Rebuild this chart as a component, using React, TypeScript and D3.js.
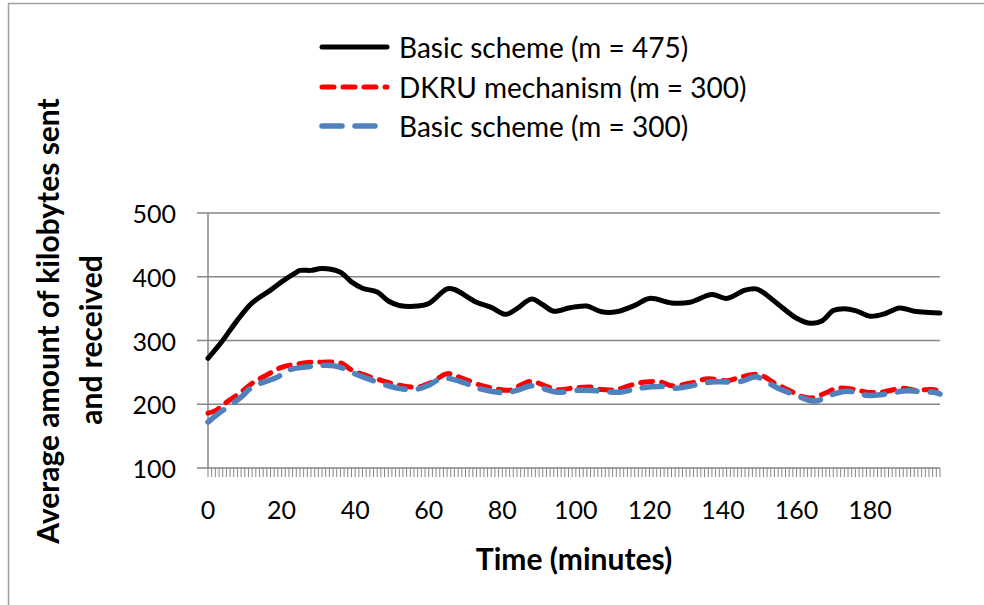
import React from "react";
import * as d3 from "d3";

const xTickLabels = [0, 20, 40, 60, 80, 100, 120, 140, 160, 180];
const yTickLabels = [100, 200, 300, 400, 500];

const basic475X = [0, 4, 8, 12, 17, 20, 24, 25, 28, 31, 36, 39, 42, 46, 49, 52, 57, 60, 65, 67, 73, 77, 81, 84, 88, 91, 94, 98, 100, 103, 107, 111, 116, 120, 126, 131, 137, 141, 146, 149, 151, 155, 160, 164, 167, 170, 173, 176, 180, 184, 188, 192, 196, 199];
const basic475Y = [272, 300, 332, 359, 379, 392, 407, 410, 410, 413, 407, 392, 382, 376, 362, 355, 354, 358, 381, 380, 360, 352, 341, 350, 365, 356, 346, 351, 353, 354, 345, 345, 355, 366, 359, 360, 372, 366, 379, 381, 375, 357, 335, 327, 331, 347, 350, 347, 338, 342, 351, 346, 344, 343];

const dkruX = [0, 2, 5, 9, 12, 16, 20, 24, 28, 31, 36, 39, 44, 48, 51, 57, 61, 65, 69, 74, 77, 82, 85, 88, 92, 95, 100, 104, 107, 111, 115, 119, 123, 126, 131, 136, 141, 145, 149, 151, 154, 158, 161, 164, 168, 171, 176, 179, 183, 189, 192, 197, 199];
const dkruY = [186, 190, 203, 219, 233, 246, 258, 263, 266, 266, 265, 254, 243, 236, 231, 227, 235, 248, 241, 230, 226, 222, 230, 236, 228, 223, 226, 227, 223, 223, 230, 235, 235, 229, 233, 240, 237, 243, 247, 244, 233, 222, 213, 210, 218, 225, 223, 219, 219, 225, 222, 223, 220];

const basic300X = [0, 3, 9, 12, 19, 22, 29, 32, 36, 39, 43, 49, 53, 57, 60, 64, 70, 74, 81, 84, 88, 91, 95, 101, 106, 112, 117, 123, 127, 134, 137, 141, 145, 149, 151, 155, 159, 165, 169, 173, 176, 179, 183, 187, 190, 194, 198, 199];
const basic300Y = [172, 186, 211, 227, 243, 254, 260, 261, 258, 250, 241, 229, 224, 224, 230, 241, 233, 224, 218, 222, 229, 225, 219, 222, 221, 219, 225, 228, 225, 232, 235, 235, 236, 243, 238, 225, 216, 205, 214, 220, 219, 214, 215, 219, 221, 220, 218, 216];

const legendLabels = ["Basic scheme (m = 475)", "DKRU mechanism (m = 300)", "Basic scheme (m = 300)"];

const W = 984;
const H = 605;
const FONT = "Lato, 'Open Sans', sans-serif";

export default function App() {
  const x = d3.scaleLinear().domain([0, 199]).range([208, 940]);
  const y = d3.scaleLinear().domain([100, 500]).range([468, 213]);

  const line = d3
    .line<[number, number]>()
    .x((d) => x(d[0]))
    .y((d) => y(d[1]))
    .curve(d3.curveCatmullRom.alpha(0.5));

  const zip = (xs: number[], ys: number[]) => xs.map((v, i) => [v, ys[i]] as [number, number]);

  const series = [
    { data: zip(basic475X, basic475Y), color: "#000000", dash: undefined as string | undefined, width: 5, cap: "round" },
    { data: zip(dkruX, dkruY), color: "#ff0000", dash: "12 9", width: 5, cap: "round" },
    { data: zip(basic300X, basic300Y), color: "#4f81bd", dash: "20 13", width: 5.5, cap: "round" },
  ];

  const minorTicks = d3.range(0, 200);
  const grid = "#868686";

  return (
    <svg
      width={W}
      height={H}
      style={{ position: "absolute", left: 0, top: 0, background: "#fff" }}
      fontFamily={FONT}
    >
      <rect x={0} y={0} width={W} height={H} fill="#fff" />
      {/* outer frame */}
      <rect x={8.5} y={3.5} width={1200} height={1200} fill="none" stroke="#a0a0a0" strokeWidth={1.5} />

      {/* gridlines + y ticks */}
      {yTickLabels.map((v) => (
        <g key={v}>
          <line x1={197} x2={940} y1={y(v)} y2={y(v)} stroke={grid} strokeWidth={1.5} />
          <text x={176} y={y(v)} textAnchor="end" dominantBaseline="central" fontSize={25} fill="#000">
            {v}
          </text>
        </g>
      ))}
      {/* y axis line */}
      <line x1={x(0)} x2={x(0)} y1={y(500)} y2={y(100)} stroke={grid} strokeWidth={1.5} />
      {/* x minor ticks */}
      {minorTicks.map((t) => (
        <line key={t} x1={x(t)} x2={x(t)} y1={y(100)} y2={y(100) + 9} stroke={grid} strokeWidth={1} />
      ))}
      {xTickLabels.map((t) => (
        <text key={t} x={x(t)} y={509} textAnchor="middle" dominantBaseline="central" fontSize={25} fill="#000">
          {t}
        </text>
      ))}

      {/* series */}
      {series.map((s, i) => (
        <path
          key={i}
          d={line(s.data) || ""}
          fill="none"
          stroke={s.color}
          strokeWidth={s.width}
          strokeDasharray={s.dash}
          strokeLinecap={s.cap as any}
          strokeLinejoin="round"
        />
      ))}

      {/* legend */}
      {series.map((s, i) => {
        const ly = [47, 87, 126][i];
        return (
          <g key={i}>
            <line
              x1={322}
              x2={387}
              y1={ly}
              y2={ly}
              stroke={s.color}
              strokeWidth={s.width}
              strokeDasharray={s.dash}
              strokeLinecap={s.cap as any}
            />
            <text x={399} y={ly} dominantBaseline="central" fontSize={28} fill="#000">
              {legendLabels[i]}
            </text>
          </g>
        );
      })}

      {/* axis titles */}
      <text x={574} y={558} textAnchor="middle" dominantBaseline="central" fontSize={30} fontWeight="bold" fill="#000">
        Time (minutes)
      </text>
      <text
        transform={`translate(47,321) rotate(-90)`}
        textAnchor="middle"
        dominantBaseline="central"
        fontSize={30}
        fontWeight="bold"
        fill="#000"
      >
        Average amount of kilobytes sent
      </text>
      <text
        transform={`translate(90,340) rotate(-90)`}
        textAnchor="middle"
        dominantBaseline="central"
        fontSize={30}
        fontWeight="bold"
        fill="#000"
      >
        and received
      </text>
    </svg>
  );
}
